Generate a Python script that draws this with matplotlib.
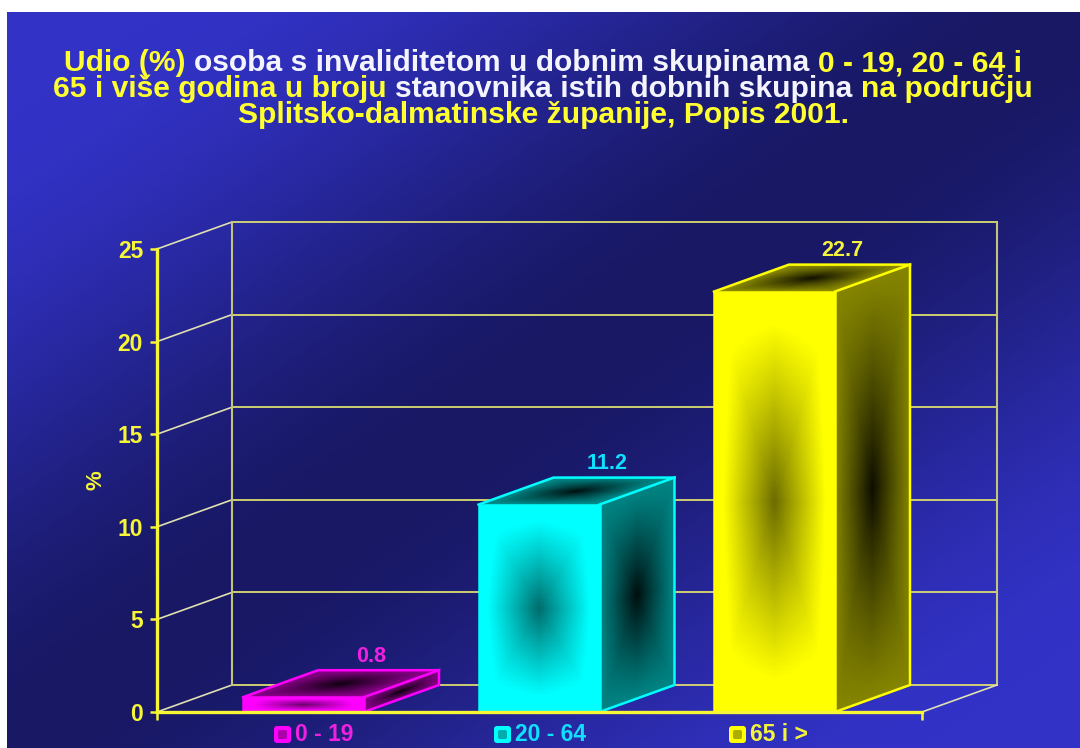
import numpy as np
import matplotlib
matplotlib.use('Agg')
from matplotlib import pyplot as plt
from matplotlib.patches import FancyBboxPatch
from matplotlib.transforms import Affine2D

categories = ['0 - 19', '20 - 64', '65 i >']
values = [0.8, 11.2, 22.7]
yticks = [0, 5, 10, 15, 20, 25]
ylabel = '%'
title_lines = [
    [('Udio (%)', 'y'), (' osoba s invaliditetom u dobnim skupinama ', 'w'), ('0 - 19, 20 - 64 i', 'y')],
    [('65 i više godina u broju', 'y'), (' stanovnika istih dobnih skupina ', 'w'), ('na području', 'y')],
    [('Splitsko-dalmatinske županije, Popis 2001.', 'y')],
]

bar_colors = [(1, 0, 1), (0, 1, 1), (1, 1, 0)]
text_colors = ['#f020e0', '#10e0ff', '#f4f43c']
legend_x = [274, 494, 729]
YEL = '#f6f636'
TITLE_COL = {'y': '#ffff30', 'w': '#f4f4ff'}

plt.rcParams['font.family'] = ['Liberation Sans', 'DejaVu Sans']
plt.rcParams['font.weight'] = 'bold'

fig = plt.figure(figsize=(10.8, 7.48), dpi=100, facecolor='white')
# pixel coordinates of the image, y going down
px = Affine2D().scale(1 / 1080, -1 / 748).translate(0, 1) + fig.transFigure

# background
bg = fig.add_axes([7 / 1080, 0, 1073 / 1080, 736 / 748])
bg.axis('off')
yy, xx = np.mgrid[0:1:200j, 0:1:200j]
d = np.clip(np.abs(xx + yy - 1) / 0.85, 0, 1)
d = d * d * (3 - 2 * d)
dark = np.array([0x18, 0x18, 0x64]) / 255
light = np.array([0x32, 0x32, 0xc6]) / 255
bg.imshow(dark + (light - dark) * d[..., None], aspect='auto', interpolation='bilinear')

# main axes: only the front plane of the 3d box
ax = fig.add_axes([157 / 1080, 36 / 748, 765 / 1080, 463 / 748])
ax.patch.set_visible(False)
xl, xr = -146.5 / 235.5, 618.5 / 235.5
bw = 121 / 235.5
dx, dy = 75 / 235.5, 27 / 18.52
N = 160


def shade(base, lo, hi, gamma):
    v, u = np.mgrid[-1:1:N * 1j, -1:1:N * 1j]
    u, v = np.abs(u), np.abs(v)
    # half pyramid, half product: gives the X / hourglass look of the faces
    t = 0.35 * (1 - np.maximum(u, v)) + 0.65 * (1 - u) * (1 - v)
    t = t ** gamma
    return (hi + (lo - hi) * t)[..., None] * np.array(base)


def face(p0, e1, e2, col):
    s, r = np.mgrid[0:1:(N + 1) * 1j, 0:1:(N + 1) * 1j]
    X = p0[0] + e1[0] * r + e2[0] * s
    Y = p0[1] + e1[1] * r + e2[1] * s
    ax.pcolormesh(X, Y, col, shading='flat', clip_on=False, zorder=3, antialiased=False, linewidth=0)


def outline(xs, ys, c):
    ax.plot(xs, ys, color=c, lw=1.8, clip_on=False, zorder=3.2, solid_joinstyle='miter')


# walls
wall = '#c4c478'
grid = '#dcdc70'
side = '#e0e0b0'
for t in yticks:
    ax.plot([xl, xl + dx], [t, t + dy], color=side, lw=1.2, clip_on=False, zorder=1)
    ax.plot([xl + dx, xr + dx], [t + dy, t + dy], color=grid, lw=1.3, clip_on=False, zorder=1)
ax.plot([xl + dx, xl + dx], [dy, 25 + dy], color=wall, lw=1.5, clip_on=False, zorder=1)
ax.plot([xr + dx, xr + dx], [dy, 25 + dy], color=wall, lw=1.5, clip_on=False, zorder=1)
ax.plot([xr, xr + dx], [0, dy], color=side, lw=1.2, clip_on=False, zorder=1)

# bars
for i, val in enumerate(values):
    c = bar_colors[i]
    l = i - bw / 2
    r = i + bw / 2
    face((l, 0), (bw, 0), (0, val), shade(c, 0.42, 1.1, 1.0).clip(0, 1))
    face((r, 0), (dx, dy), (0, val), shade(c, 0.05, 0.52, 1.0))
    face((l, val), (bw, 0), (dx, dy), shade(c, 0.06, 0.58, 0.8))
    outline([l, r, r, l, l], [0, 0, val, val, 0], c)
    outline([r, r + dx, r + dx, r], [0, dy, val + dy, val], c)
    outline([l, l + dx, r + dx], [val, val + dy, val + dy], c)
    ax.annotate(f'{val:.1f}', (i + dx, val + dy), xytext=(-5, 10), textcoords='offset points',
                ha='center', va='center', fontsize=15.5, color=text_colors[i], zorder=4,
                annotation_clip=False)

ax.set_xlim(xl, xr)
ax.set_ylim(0, 25)
ax.set_yticks(yticks)
ax.set_xticks([xl, xr])
ax.set_xticklabels([])
ax.tick_params(axis='y', length=5, width=1.8, color=YEL, labelcolor=YEL, labelsize=16.5, pad=5)
ax.tick_params(axis='x', length=6, width=1.8, color=YEL)
for s in ['top', 'right']:
    ax.spines[s].set_visible(False)
for s in ['left', 'bottom']:
    ax.spines[s].set_color(YEL)
    ax.spines[s].set_linewidth(2.4)
    ax.spines[s].set_zorder(3.5)
ax.set_ylabel(ylabel, color=YEL, fontsize=16, fontweight='bold', labelpad=8)

# legend, with small shaded swatches
for i, name in enumerate(categories):
    x0 = legend_x[i]
    fig.add_artist(FancyBboxPatch((x0 + 2, 728), 13, 13, boxstyle='round,pad=2,rounding_size=3',
                                  transform=px, fc=bar_colors[i], ec='none'))
    fig.add_artist(FancyBboxPatch((x0 + 5, 731), 7, 7, boxstyle='round,pad=1,rounding_size=2',
                                  transform=px, fc=tuple(0.68 * q for q in bar_colors[i]), ec='none'))
    fig.text(x0 + 21, 734.5, name, transform=px, color=text_colors[i], fontsize=16.5,
             ha='left', va='center')

# title, coloured runs on one centred line
fig.canvas.draw()
rend = fig.canvas.get_renderer()
title_size = 21.6
title_base = [71, 97, 123]


def run_width(s):
    t = fig.text(0, 0, s + 'x', fontsize=title_size)
    w1 = t.get_window_extent(rend).width
    t.set_text('x')
    w2 = t.get_window_extent(rend).width
    t.remove()
    return w1 - w2


for line, base in zip(title_lines, title_base):
    full = ''.join(r[0] for r in line)
    x = 543 - run_width(full) / 2
    done = ''
    for s, k in line:
        lead = len(s) - len(s.lstrip())
        fig.text(x + run_width(done + s[:lead]), base, s.strip(), transform=px, fontsize=title_size,
                 color=TITLE_COL[k], ha='left', va='baseline')
        done += s

fig.savefig('out.png', dpi=100, facecolor='white')
